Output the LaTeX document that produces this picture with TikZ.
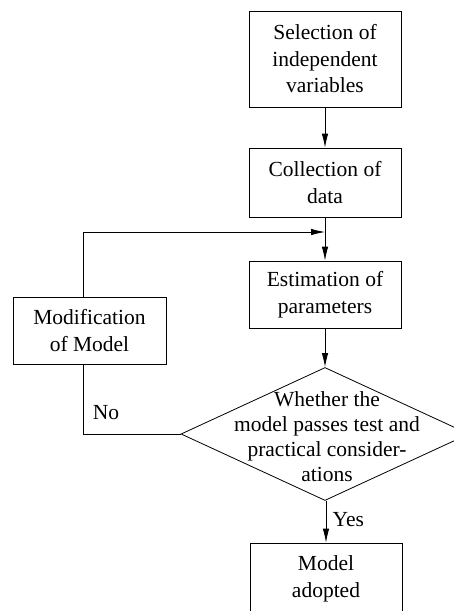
\documentclass[tikz,border=0pt]{standalone}
\usepackage{fontspec}
\setmainfont{Liberation Serif}
\usepackage{tikz}
\usetikzlibrary{arrows.meta,calc}
\usetikzlibrary{shapes.geometric}

\tikzset{
	stepbox/.style={draw,thick,rectangle,minimum width=152pt,inner sep=0pt,align=center,font=\fontsize{21.5}{26.5}\selectfont},
	decision/.style={draw,thick,diamond,minimum width=288pt,minimum height=133pt,inner sep=0pt},
	lbl/.style={font=\fontsize{21.5}{25}\selectfont}
}

\begin{document}
\begin{tikzpicture}[x=1pt, y=-1pt, >={Latex[length=14pt,width=6.5pt]}]

\useasboundingbox (0,0) rectangle (453,611);

\node (sel) at (325,59) [stepbox,minimum height=96pt] {Selection of\\independent\\variables};
\node (col) at (325,182.5) [stepbox,minimum height=69pt] {Collection of\\data};
\node (est) at (325,294.5) [stepbox,minimum height=67pt] {Estimation of\\parameters};
\node (mod) at (89.5,330.5) [stepbox,minimum width=153pt,minimum height=67pt] {Modification\\of Model};
\node (dec) at (325,434) [decision] {};
\node (dectext) at (327,437) [lbl,align=center] {Whether the\\model passes test and\\practical consider-\\ations};
\node (adp) at (326,579) [stepbox,minimum height=72pt] {Model\\adopted};

\coordinate (join) at (325,232);
\coordinate (fbtop) at (83,232);
\coordinate (fbbot) at (83,434);

\draw[->,thick] (sel) -- (col);
\draw[->,thick] (col) -- (est);
\draw[->,thick] (est) -- (dec);
\draw[->,thick] (dec.south -| adp) -- (adp) node [lbl,pos=0.45,right=3pt] {Yes};

% loop back for a rejected model
\draw[thick] (dec.west) -- (fbbot) -- (fbbot |- mod.south);
\draw[->,thick] (fbtop |- mod.north) -- (fbtop) -- (join);
\node [lbl] at (106,413) {No};

\end{tikzpicture}
\end{document}
